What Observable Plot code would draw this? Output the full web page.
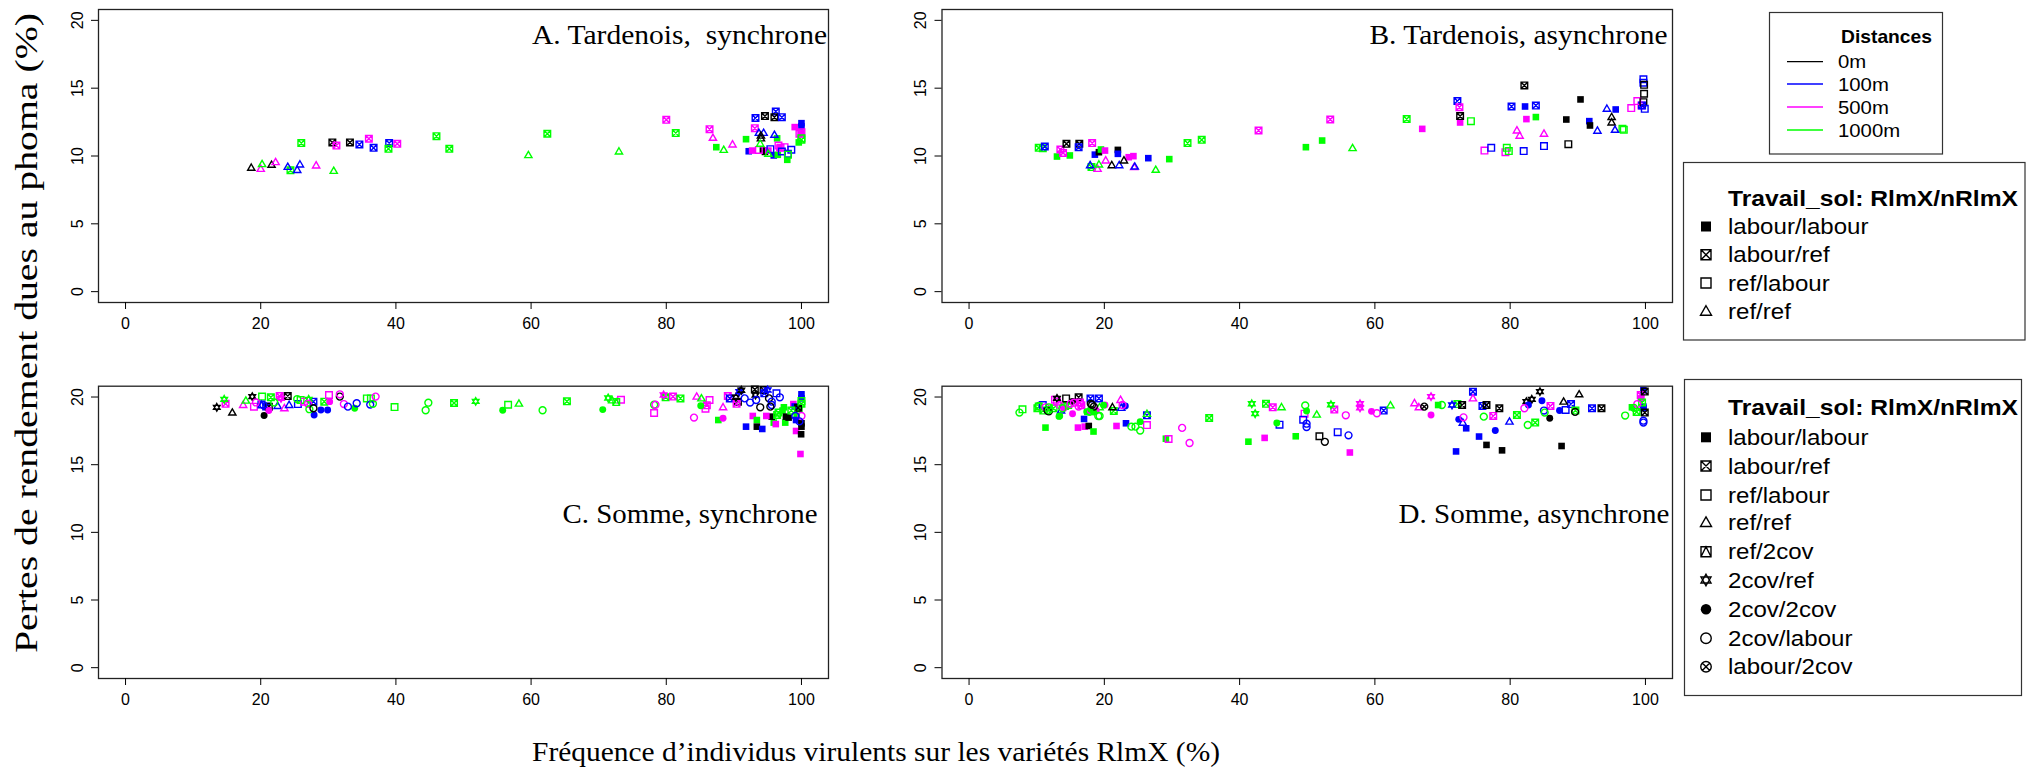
<!DOCTYPE html>
<html><head><meta charset="utf-8">
<script src="https://cdn.jsdelivr.net/npm/d3@7"></script>
<script src="https://cdn.jsdelivr.net/npm/@observablehq/plot@0.6"></script>
<style>
html,body{margin:0;padding:0;background:#fff;}
#root{position:relative;width:2029px;height:771px;overflow:hidden;background:#fff;}
#root > svg{position:absolute;}
</style></head><body><div id="root"></div>
<script>
// ---------- data ----------
const distances = ["0m", "100m", "500m", "1000m"];
const distColors = ["#000000", "#0000ff", "#ff00ff", "#00ff00"];
const typeCodes = ["LL", "LR", "RL", "RR", "R2", "2R", "22", "2L", "L2"];
const typeNames = ["labour/labour", "labour/ref", "ref/labour", "ref/ref", "ref/2cov", "2cov/ref", "2cov/2cov", "2cov/labour", "labour/2cov"];
const xTicks = [0, 20, 40, 60, 80, 100];
const yTicks = [0, 5, 10, 15, 20];
const panelTitles = ["A. Tardenois,\u00a0 synchrone", "B. Tardenois, asynchrone", "C. Somme, synchrone", "D. Somme, asynchrone"];
const xTitle = "Fréquence d’individus virulents sur les variétés RlmX (%)";
const yTitle = "Pertes de rendement dues au phoma (%)";
const legendDistTitle = "Distances";
const legendTypeTitle = "Travail_sol: RlmX/nRlmX";

// [x, y, distance index, soil-work code]
const pointsA = [
[18.6,9.13,0,"RR"],[20.0,9.05,2,"RR"],[20.2,9.4,3,"RR"],[21.6,9.35,0,"RR"],[22.2,9.55,2,"RR"],
[24.0,9.2,1,"RR"],[24.4,8.95,3,"LR"],[25.4,8.97,1,"RR"],[25.8,9.37,1,"RR"],[26.0,10.95,3,"LR"],
[28.2,9.3,2,"RR"],[30.6,11.0,0,"LR"],[30.8,8.9,3,"RR"],[31.2,10.77,2,"LR"],[33.2,11.0,0,"LR"],
[34.6,10.85,1,"LR"],[36.0,11.27,2,"LR"],[36.7,10.6,1,"LR"],[39.0,10.95,1,"LR"],[38.9,10.53,3,"LR"],
[40.2,10.9,2,"LR"],[46.0,11.46,3,"LR"],[47.9,10.53,3,"LR"],[59.6,10.06,3,"RR"],[62.4,11.64,3,"LR"],
[73.0,10.33,3,"RR"],[80.0,12.67,2,"LR"],[81.4,11.69,3,"LR"],[86.4,11.98,2,"LR"],[86.9,11.34,2,"RR"],
[87.4,10.65,3,"LL"],[88.5,10.45,3,"RR"],[89.8,10.85,2,"RR"],[91.8,11.24,3,"LL"],[93.2,12.8,1,"LR"],
[93.1,12.05,2,"LR"],[94.6,12.94,0,"LR"],[96.2,13.28,1,"LR"],[96.0,12.86,0,"LR"],[97.1,12.86,1,"LR"],
[93.7,11.7,1,"RR"],[94.4,11.7,1,"RR"],[94.0,11.5,0,"RR"],[94.0,11.3,0,"RR"],[96.0,11.56,1,"RR"],
[96.4,11.3,3,"LL"],[93.9,10.9,3,"RR"],[92.2,10.35,1,"LL"],[92.7,10.4,2,"LL"],[93.7,10.45,2,"RL"],
[94.3,10.4,0,"LL"],[94.6,10.3,0,"LL"],[95.1,10.4,2,"LL"],[95.4,10.5,1,"RL"],[96.6,10.77,2,"RL"],
[96.9,10.6,2,"RL"],[97.5,10.65,2,"RL"],[96.75,10.6,2,"LL"],[95.9,10.04,1,"LL"],[96.5,10.09,3,"LL"],
[97.1,10.33,1,"RL"],[98.0,10.16,1,"RL"],[98.5,10.46,1,"RL"],[98.0,10.1,3,"RL"],[97.9,9.72,3,"LL"],
[95.1,10.16,3,"RR"],[99.0,12.13,2,"LL"],[100,12.42,1,"LL"],[100,12.18,1,"LL"],[100,11.76,2,"LR"],
[99.7,11.64,2,"RL"],[100,11.3,3,"RL"],[99.6,11.0,3,"LL"],[99.9,11.6,2,"LL"],[100,11.2,3,"LR"]
];
const pointsB = [
[10.3,10.6,3,"LR"],[10.9,10.58,3,"LR"],[11.2,10.7,1,"LR"],[13.0,9.96,3,"LL"],[13.5,10.48,2,"LR"],
[13.9,10.23,2,"LR"],[14.4,10.9,0,"LR"],[14.9,10.04,3,"LL"],[16.3,10.9,0,"LR"],[16.2,10.65,1,"LR"],
[17.9,9.32,1,"RR"],[18.1,9.18,3,"LR"],[18.2,10.95,2,"LR"],[18.6,10.1,1,"LL"],[19.0,9.05,2,"RR"],
[19.2,9.37,3,"RR"],[19.2,10.28,0,"LL"],[19.5,10.48,3,"LL"],[20.1,10.4,2,"LL"],[20.2,9.67,2,"RR"],
[21.1,9.32,0,"RR"],[22.0,10.45,0,"LL"],[22.0,10.16,1,"LL"],[22.2,9.32,1,"RR"],[22.9,9.67,0,"RR"],
[23.6,9.91,2,"LL"],[24.3,9.99,2,"LL"],[24.4,9.18,2,"RR"],[24.5,9.22,1,"RR"],[26.5,9.84,1,"LL"],
[27.6,8.98,3,"RR"],[29.6,9.77,3,"LL"],[32.3,10.95,3,"LR"],[34.4,11.19,3,"LR"],[42.8,11.88,2,"LR"],
[49.8,10.65,3,"LL"],[52.2,11.14,3,"LL"],[53.4,12.69,2,"LR"],[56.7,10.58,3,"RR"],[64.7,12.72,3,"LR"],
[67.0,12.0,2,"LL"],[72.2,14.05,1,"LR"],[72.6,12.94,0,"LR"],[72.5,13.6,2,"LR"],[72.6,12.47,2,"LL"],
[74.2,12.57,3,"RL"],[76.2,10.4,2,"RL"],[77.2,10.6,1,"RL"],[79.3,10.28,2,"RL"],[79.5,10.6,3,"RL"],
[79.8,10.36,3,"RL"],[80.2,13.65,1,"LR"],[81.0,11.88,2,"RR"],[81.4,11.49,2,"RR"],[82.0,10.36,1,"RL"],
[82.1,15.2,0,"LR"],[82.2,13.65,1,"LL"],[82.4,12.72,2,"LL"],[83.8,13.72,1,"LR"],[83.8,12.87,3,"LL"],
[85.0,11.64,2,"RR"],[85.0,10.73,1,"RL"],[88.3,12.69,0,"LL"],[88.6,10.87,0,"RL"],[90.4,14.17,0,"LL"],
[91.7,12.57,1,"LL"],[91.8,12.25,0,"LL"],[92.9,11.86,1,"RR"],[94.3,13.48,1,"RR"],[95.0,12.87,0,"RR"],
[95.0,12.47,0,"RR"],[95.6,13.43,1,"LL"],[95.5,11.93,1,"RR"],[96.6,12.0,3,"RL"],[96.8,11.93,3,"RL"],
[97.9,13.53,2,"RL"],[98.8,14.05,2,"RL"],[99.4,13.73,2,"LR"],[99.7,15.65,1,"RL"],[99.7,15.4,1,"RL"],
[99.8,15.25,0,"RL"],[99.8,14.59,0,"RL"],[99.7,13.97,0,"RL"],[99.9,13.48,1,"RL"],[99.5,13.73,1,"LR"]
];
const pointsC = [
[13.5,19.24,0,"2R"],[14.6,19.83,3,"2R"],[14.8,19.5,2,"LR"],[15.8,18.85,0,"RR"],[17.4,19.41,2,"RR"],
[17.8,19.73,3,"RR"],[18.75,20.03,0,"2R"],[19.0,19.29,2,"RL"],[19.3,19.6,2,"2L"],[20.2,20.03,3,"RL"],
[20.1,19.45,1,"R2"],[20.4,19.4,1,"2L"],[20.8,19.3,1,"LR"],[20.5,18.63,0,"22"],[21.2,19.0,2,"22"],
[21.5,19.98,3,"LR"],[21.2,19.29,0,"LR"],[22.0,19.6,3,"2L"],[22.5,19.34,1,"RR"],[22.8,20.07,2,"LR"],
[23.0,19.9,2,"2R"],[23.5,19.17,2,"RR"],[24.0,20.07,0,"LR"],[24.2,19.41,1,"RR"],[25.4,19.85,3,"2L"],
[25.5,19.48,1,"RL"],[25.9,19.78,3,"RL"],[26.4,19.66,2,"RL"],[27.1,19.83,3,"2R"],[27.0,19.5,2,"2L"],
[27.2,19.1,3,"2L"],[27.8,19.66,1,"LR"],[27.8,19.17,0,"2L"],[27.9,18.67,1,"22"],[28.9,19.04,1,"22"],
[29.9,19.04,1,"22"],[29.4,19.66,3,"LR"],[30.2,19.66,2,"22"],[30.1,20.15,2,"RL"],[31.7,20.03,0,"2L"],
[31.7,20.2,2,"2L"],[32.3,19.48,2,"2L"],[32.9,19.29,1,"2L"],[33.9,19.17,3,"22"],[34.2,19.54,1,"2L"],
[35.7,19.9,3,"RL"],[36.3,19.9,3,"RL"],[36.2,19.44,1,"2L"],[36.6,19.5,3,"2L"],[37.0,20.03,2,"2L"],
[39.8,19.26,3,"RL"],[44.4,19.02,3,"2L"],[44.8,19.58,3,"2L"],[48.6,19.56,3,"LR"],[51.8,19.68,3,"2R"],
[55.8,19.02,3,"22"],[56.6,19.43,3,"RL"],[58.2,19.51,3,"RR"],[61.7,19.02,3,"2L"],[65.3,19.68,3,"LR"],
[70.6,19.07,3,"22"],[71.4,19.93,3,"2R"],[72.0,19.75,3,"RR"],[72.6,19.63,3,"R2"],[73.3,19.8,2,"RL"],
[78.2,18.82,2,"RL"],[78.2,19.43,3,"2L"],[78.4,19.43,2,"2L"],[79.6,20.15,2,"2R"],[79.9,19.98,3,"LR"],
[81.0,20.03,2,"LR"],[82.1,19.9,3,"LR"],[84.1,18.48,2,"2L"],[84.5,20.03,2,"RR"],[85.1,19.36,3,"22"],
[85.2,19.9,3,"RR"],[85.8,19.14,2,"RL"],[86.0,19.39,2,"LR"],[86.4,19.78,2,"RL"],[87.7,18.3,3,"LL"],
[88.4,18.43,2,"22"],[88.4,19.24,2,"RR"],[89.1,20.07,2,"LR"],[89.4,19.9,1,"LR"],[90.3,19.98,0,"2R"],
[90.8,20.4,1,"2R"],[90.6,19.66,0,"LR"],[90.4,19.5,2,"LR"],[91.1,20.5,0,"2R"],[91.6,19.9,1,"2L"],
[92.4,19.59,1,"2L"],[93.1,20.56,0,"LR"],[93.2,20.15,0,"2R"],[93.3,19.78,1,"2L"],[93.9,19.24,0,"2L"],
[94.4,20.52,0,"LR"],[94.5,20.27,1,"LR"],[95.0,20.52,1,"2R"],[95.2,19.9,0,"2L"],[95.6,19.66,1,"2L"],
[95.6,19.41,1,"2L"],[95.4,19.29,0,"2L"],[96.3,20.27,1,"RL"],[96.8,19.98,1,"2L"],[97.4,19.24,3,"LL"],
[96.6,18.85,3,"LR"],[96.4,18.67,3,"LR"],[97.2,19.0,3,"LL"],[95.9,18.11,3,"LL"],[97.6,18.11,3,"LL"],
[96.2,18.0,2,"LL"],[95.6,18.55,0,"LL"],[94.8,18.6,2,"LL"],[92.8,18.6,2,"LL"],[93.4,18.3,3,"LL"],
[91.8,17.81,1,"LL"],[93.4,17.81,0,"LL"],[94.2,17.64,1,"LL"],[97.7,18.55,0,"LL"],[98.1,18.48,0,"LL"],
[98.8,19.48,2,"LL"],[99.3,18.57,3,"LL"],[99.2,18.3,1,"LL"],[99.2,17.49,2,"LL"],[99.85,15.79,2,"LL"],
[99.95,17.25,0,"LL"],[100,18.06,0,"LL"],[100,17.81,0,"LL"],[100,20.2,1,"LL"],[100,19.9,1,"LL"],
[100,19.5,3,"LR"],[100,18.6,2,"2L"],[99.1,18.6,1,"2L"],[99.7,19.1,3,"LL"],[99.7,18.2,1,"2L"],
[99.5,19.2,0,"LR"],[98.5,19.0,3,"LR"],[100,19.7,3,"RL"],[99.0,19.3,1,"LL"]
];
const pointsD = [
[7.45,18.85,3,"2L"],[7.9,19.09,3,"RL"],[10.1,19.17,3,"LR"],[10.3,19.34,3,"2L"],[10.9,19.41,1,"RL"],
[11.3,19.24,2,"2L"],[10.97,19.0,3,"LR"],[11.8,19.24,3,"2L"],[11.8,19.04,3,"L2"],[11.6,19.0,0,"2L"],
[12.5,19.17,3,"LR"],[13.0,19.66,2,"RL"],[13.0,19.9,0,"2R"],[14.35,19.9,0,"RL"],[13.4,19.4,2,"2L"],
[14.65,19.41,3,"LR"],[15.0,19.5,2,"2L"],[13.8,19.17,3,"2L"],[13.4,18.6,3,"22"],[14.0,19.15,2,"22"],
[16.2,19.98,0,"LR"],[16.6,19.4,2,"LR"],[16.2,19.3,2,"2L"],[17.95,19.9,1,"LR"],[18.0,19.5,0,"2L"],
[19.2,19.9,1,"LR"],[17.4,18.92,3,"22"],[17.9,19.0,2,"22"],[18.45,19.29,0,"2L"],[18.0,19.1,3,"22"],
[19.3,19.24,3,"RR"],[18.8,19.0,2,"22"],[20.1,19.41,2,"22"],[19.3,18.6,3,"2L"],[18.4,18.9,3,"22"],
[22.4,19.78,2,"RR"],[22.7,19.41,2,"2L"],[21.2,19.24,0,"RR"],[21.4,18.97,3,"LR"],[23.1,19.34,1,"22"],
[22.5,19.2,1,"RR"],[17.0,18.38,1,"LL"],[16.1,17.74,2,"LL"],[17.1,17.81,2,"LL"],[17.7,17.86,0,"LL"],
[18.4,17.45,3,"LL"],[11.3,17.74,3,"LL"],[23.2,18.06,1,"LL"],[21.8,17.86,2,"LL"],[24.0,17.81,3,"2L"],
[24.6,17.81,3,"2L"],[25.3,17.52,3,"2L"],[25.3,18.18,3,"22"],[26.3,17.93,2,"RL"],[26.3,18.65,1,"LR"],
[26.3,18.75,3,"RR"],[14.2,19.33,3,"LR"],[15.3,18.77,2,"22"],[15.3,19.68,0,"22"],[12.7,19.8,2,"RL"],
[11.8,18.94,0,"2L"],[10.3,19.3,3,"RL"],[13.3,18.57,3,"22"],[19.9,19.4,3,"22"],[17.5,18.9,3,"LL"],
[17.8,18.9,3,"2L"],[19.1,18.6,3,"2L"],[16.4,19.6,2,"LR"],[18.2,19.43,0,"2L"],[15.5,19.58,2,"2L"],
[13.6,19.0,1,"RR"],
[29.1,16.92,3,"LL"],[29.5,16.9,2,"RL"],[31.5,17.72,2,"2L"],[32.6,16.6,2,"2L"],[35.5,18.45,3,"LR"],
[41.3,16.7,3,"LL"],[41.8,19.5,3,"2R"],[42.3,18.77,3,"2R"],[43.7,16.98,2,"LL"],[43.9,19.5,3,"LR"],
[44.9,19.24,2,"LR"],[45.9,17.96,1,"RL"],[45.5,18.08,3,"22"],[46.2,19.24,3,"RR"],[48.3,17.1,3,"LL"],
[49.6,18.77,2,"RL"],[49.4,18.33,1,"RL"],[49.7,19.38,3,"2L"],[49.9,18.03,1,"2L"],[49.9,17.78,1,"2L"],
[49.9,18.97,3,"22"],[51.4,18.7,3,"RR"],[51.8,17.1,0,"RL"],[52.6,16.69,0,"2L"],[53.5,19.43,3,"2R"],
[54.0,19.07,2,"LR"],[54.5,17.4,1,"RL"],[55.7,18.65,2,"2L"],[56.1,17.17,1,"2L"],[56.3,15.9,2,"LL"],
[57.8,19.5,2,"2R"],[57.8,19.2,2,"2R"],[59.5,18.94,2,"22"],[60.3,18.8,2,"2L"],[61.3,19.0,1,"LR"],
[62.3,19.38,3,"RR"],
[65.85,19.54,2,"RR"],[66.5,19.24,2,"RR"],[67.3,19.29,0,"L2"],[68.3,18.67,2,"22"],[68.3,20.03,2,"2R"],
[69.35,19.41,3,"LL"],[69.9,19.41,3,"2L"],[71.4,19.41,1,"2R"],[72.2,19.48,3,"LR"],[72.9,19.41,0,"LR"],
[72.4,18.35,1,"22"],[73.1,18.5,2,"2L"],[73.0,18.1,1,"RR"],[73.5,17.69,1,"LL"],[74.5,19.9,2,"RR"],
[74.5,20.39,1,"LR"],[75.9,19.34,1,"LR"],[76.5,19.41,0,"LR"],[76.1,18.55,3,"2L"],[77.5,18.6,2,"LR"],
[78.4,19.17,0,"LR"],[75.4,17.08,1,"LL"],[77.8,17.52,1,"22"],[79.9,18.18,1,"RR"],[81.0,18.67,3,"LR"],
[76.5,16.46,0,"LL"],[78.8,16.06,0,"LL"],[87.6,16.38,0,"LL"],[72.0,15.98,1,"LL"],[82.1,19.17,2,"2L"],
[82.4,19.66,0,"2R"],[83.2,19.83,0,"2R"],[84.4,20.4,0,"2R"],[82.7,19.41,1,"22"],[84.7,19.73,1,"22"],
[85.96,19.34,2,"LR"],[82.6,17.93,3,"2L"],[83.7,18.11,3,"LR"],[85.0,19.0,1,"2L"],[85.1,18.85,3,"2L"],
[85.85,18.43,0,"22"],[87.9,19.66,0,"RR"],[90.2,20.2,0,"RR"],[87.3,19.0,1,"22"],[89.0,19.48,1,"LR"],
[88.2,19.04,1,"RL"],[89.65,19.0,3,"LR"],[89.6,18.9,0,"2L"],[92.1,19.17,1,"LR"],[93.5,19.17,0,"LR"],
[97.0,18.63,3,"2L"],[98.0,19.24,3,"LL"],[98.7,18.9,3,"LR"],[98.8,19.48,2,"2L"],[99.3,19.9,2,"LL"],
[99.3,20.15,2,"LR"],[99.9,20.4,0,"LR"],[99.7,19.29,1,"LL"],[99.7,19.17,1,"LL"],[99.7,18.25,1,"2L"],
[99.7,18.11,1,"2L"],[99.9,18.85,0,"LR"],[99.7,20.5,1,"LL"],[99.5,19.6,3,"LR"],[98.3,19.2,3,"2L"]
];

// ---------- symbols (R pch look-alikes) ----------
function sqPath(c, h) { c.moveTo(-h, -h); c.lineTo(h, -h); c.lineTo(h, h); c.lineTo(-h, h); c.closePath(); }
function circPath(c, r) { c.moveTo(r, 0); c.arc(0, 0, r, 0, 2 * Math.PI); c.closePath(); }
function triPath(c, h) { c.moveTo(0, -1.15 * h); c.lineTo(1.1 * h, 0.75 * h); c.lineTo(-1.1 * h, 0.75 * h); c.closePath(); }
const hOf = s => Math.sqrt(s / Math.PI);
const symbolDefs = {
  LL: {draw(c, s) { sqPath(c, hOf(s)); }},
  LR: {draw(c, s) { const h = hOf(s); sqPath(c, h); c.moveTo(-h, -h); c.lineTo(h, h); c.moveTo(h, -h); c.lineTo(-h, h); }},
  RL: {draw(c, s) { sqPath(c, hOf(s)); }},
  RR: {draw(c, s) { triPath(c, hOf(s)); }},
  R2: {draw(c, s) { const h = hOf(s); sqPath(c, h); c.moveTo(-h, h); c.lineTo(0, -h); c.lineTo(h, h); }},
  "2R": {draw(c, s) { const h = hOf(s);
    c.moveTo(0, -1.15 * h); c.lineTo(h, 0.6 * h); c.lineTo(-h, 0.6 * h); c.closePath();
    c.moveTo(0, 1.15 * h); c.lineTo(h, -0.6 * h); c.lineTo(-h, -0.6 * h); c.closePath(); }},
  "22": {draw(c, s) { circPath(c, hOf(s) * 1.05); }},
  "2L": {draw(c, s) { circPath(c, hOf(s) * 1.05); }},
  L2: {draw(c, s) { const h = hOf(s) * 1.05, d = h * 0.7071; circPath(c, h); c.moveTo(-d, -d); c.lineTo(d, d); c.moveTo(d, -d); c.lineTo(-d, d); }}
};
const filledCodes = new Set(["LL", "22"]);

// ---------- panels ----------
const root = document.getElementById("root");
const FS = "Liberation Sans, Arial, Helvetica, sans-serif";
const SERIF = "Liberation Serif, Times New Roman, serif";

function panel(points, title, geom) {
  const marks = [
    Plot.frame({stroke: "#222", strokeWidth: 1.3}),
    Plot.axisX({ticks: xTicks, tickSize: 7, tickPadding: 8, label: null, fontSize: 16}),
    Plot.axisY({ticks: yTicks, tickSize: 7, tickFormat: () => "", label: null}),
    Plot.text(yTicks, {y: d => d, text: d => String(d), frameAnchor: "left", textAnchor: "middle", rotate: -90, dx: -21, fontSize: 16}),
    Plot.text([title], {frameAnchor: "top-right", textAnchor: "end", lineAnchor: "bottom", dx: geom.tdx, dy: geom.tdy, fontFamily: SERIF, fontSize: 28})
  ];
  for (const code of typeCodes) {
    const data = points.filter(p => p[3] === code);
    if (!data.length) continue;
    const f = filledCodes.has(code);
    marks.push(Plot.dot(data, {
      x: d => d[0], y: d => d[1], r: 3.3, symbol: symbolDefs[code],
      fill: f ? d => distances[d[2]] : "none",
      stroke: f ? "none" : d => distances[d[2]],
      strokeWidth: 1.4
    }));
  }
  const svg = Plot.plot({
    width: geom.w, height: geom.h,
    marginLeft: geom.ml, marginRight: geom.mr, marginTop: geom.mt, marginBottom: geom.mb,
    x: {domain: [-4, 104]},
    y: {domain: [-0.8, 20.8]},
    color: {domain: distances, range: distColors},
    style: {fontFamily: FS, fontSize: "16px", color: "#000", background: "transparent", overflow: "visible"},
    marks
  });
  // stretch the panel title horizontally like the original
  const t = [...svg.querySelectorAll("text")].find(e => e.textContent === title);
  if (t) { t.setAttribute("textLength", geom.tw); t.setAttribute("lengthAdjust", "spacingAndGlyphs"); }
  svg.style.left = geom.left + "px";
  svg.style.top = geom.top + "px";
  root.appendChild(svg);
}

panel(pointsA, panelTitles[0], {left: 40, top: 0, w: 800, h: 342, ml: 58, mr: 12, mt: 9, mb: 40, tdx: -1.5, tdy: 34, tw: 295});
panel(pointsB, panelTitles[1], {left: 885, top: 0, w: 800, h: 342, ml: 56.5, mr: 13, mt: 9, mb: 40, tdx: -5, tdy: 34, tw: 298});
panel(pointsC, panelTitles[2], {left: 40, top: 376, w: 800, h: 342, ml: 58, mr: 12, mt: 9.7, mb: 40, tdx: -11, tdy: 137, tw: 255});
panel(pointsD, panelTitles[3], {left: 885, top: 376, w: 800, h: 342, ml: 56.5, mr: 13, mt: 9.7, mb: 40, tdx: -3, tdy: 137, tw: 271});

// ---------- overlay: axis titles + legends ----------
const ov = d3.create("svg").attr("width", 2029).attr("height", 771)
  .style("left", "0px").style("top", "0px").style("pointer-events", "none");

ov.append("text").attr("x", 876).attr("y", 761).attr("text-anchor", "middle")
  .attr("font-family", SERIF).attr("font-size", 28)
  .attr("textLength", 688).attr("lengthAdjust", "spacingAndGlyphs").text(xTitle);
ov.append("text").attr("transform", "translate(37,333) rotate(-90)").attr("text-anchor", "middle")
  .attr("font-family", SERIF).attr("font-size", 32)
  .attr("textLength", 640).attr("lengthAdjust", "spacingAndGlyphs").text(yTitle);

function legendText(g, x, y, size, str, sx, bold) {
  const t = g.append("text").attr("transform", `translate(${x},${y}) scale(${sx},1)`)
    .attr("font-family", FS).attr("font-size", size).text(str);
  if (bold) t.attr("font-weight", "bold");
  return t;
}

// Distances legend
const lg1 = ov.append("g");
lg1.append("rect").attr("x", 1769.5).attr("y", 12.5).attr("width", 173).attr("height", 141.5)
  .attr("fill", "none").attr("stroke", "#333").attr("stroke-width", 1.2);
lg1.append("text").attr("x", 1841).attr("y", 43.3).attr("font-family", FS).attr("font-size", 18.5)
  .attr("font-weight", "bold").attr("textLength", 91).attr("lengthAdjust", "spacingAndGlyphs").text(legendDistTitle);
const distRowY = [61.7, 84, 107, 130];
distances.forEach((name, i) => {
  lg1.append("line").attr("x1", 1787).attr("x2", 1823).attr("y1", distRowY[i]).attr("y2", distRowY[i])
    .attr("stroke", distColors[i]).attr("stroke-width", 1.3);
  legendText(lg1, 1838, distRowY[i] + 6.5, 19, name, 1.07, false);
});

function typeLegend(box, titleCY, rowsY, n) {
  const g = ov.append("g");
  g.append("rect").attr("x", box[0]).attr("y", box[1]).attr("width", box[2]).attr("height", box[3])
    .attr("fill", "none").attr("stroke", "#333").attr("stroke-width", 1.2);
  g.append("text").attr("x", 1728).attr("y", titleCY + 8).attr("font-family", FS).attr("font-size", 22)
    .attr("font-weight", "bold").attr("textLength", 290).attr("lengthAdjust", "spacingAndGlyphs").text(legendTypeTitle);
  for (let i = 0; i < n; i++) {
    const code = typeCodes[i];
    const p = d3.path();
    symbolDefs[code].draw(p, 5 * 5 * Math.PI);
    const f = filledCodes.has(code);
    g.append("path").attr("d", p.toString()).attr("transform", `translate(1706,${rowsY[i]})`)
      .attr("fill", f ? "#000" : "none").attr("stroke", f ? "none" : "#000").attr("stroke-width", 1.4);
    legendText(g, 1728, rowsY[i] + 7.5, 21.5, typeNames[i], 1.12, false);
  }
}
typeLegend([1683.5, 162.5, 341.5, 177.5], 198, [226.5, 254.8, 283, 311.5], 4);
typeLegend([1684.5, 379.5, 337, 316], 406.7, [437.3, 466, 495, 522.7, 551.7, 580, 609.3, 638.3, 666.7], 9);

root.appendChild(ov.node());
</script>
</body></html>
